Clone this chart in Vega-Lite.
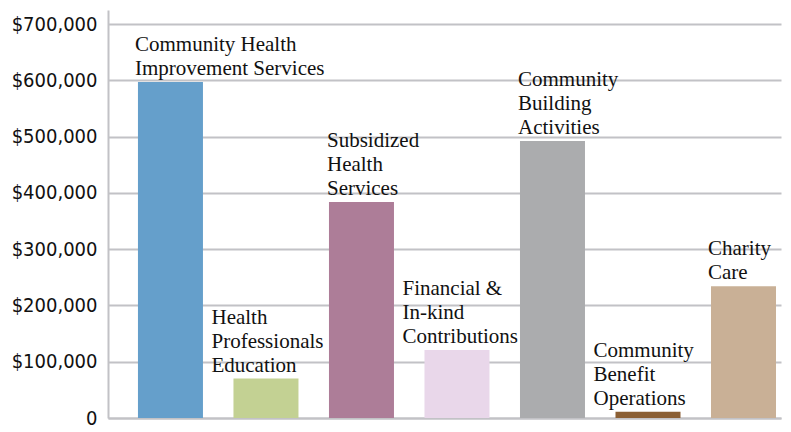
{
  "$schema": "https://vega.github.io/schema/vega-lite/v6.json",
  "width": 673,
  "height": 408,
  "autosize": {"type": "none"},
  "padding": {"left": 108, "top": 10, "right": 10, "bottom": 14},
  "background": "white",
  "config": {"view": {"stroke": null}},
  "data": {
    "values": [
      {"category": "Community Health Improvement Services", "label": "Community Health\nImprovement Services", "value": 597000, "group": "A2"},
      {"category": "Health Professionals Education", "label": "Health\nProfessionals\nEducation", "value": 70000, "group": "B3"},
      {"category": "Subsidized Health Services", "label": "Subsidized\nHealth\nServices", "value": 384000, "group": "A3"},
      {"category": "Financial & In-kind Contributions", "label": "Financial &\nIn-kind\nContributions", "value": 121000, "group": "B3"},
      {"category": "Community Building Activities", "label": "Community\nBuilding\nActivities", "value": 492000, "group": "A3"},
      {"category": "Community Benefit Operations", "label": "Community\nBenefit\nOperations", "value": 11000, "group": "B3"},
      {"category": "Charity Care", "label": "Charity\nCare", "value": 234000, "group": "A2"}
    ]
  },
  "encoding": {
    "x": {
      "field": "category",
      "type": "nominal",
      "sort": null,
      "scale": {"paddingInner": 0.3194, "paddingOuter": 0.183, "align": 0.857},
      "axis": {"title": null, "labels": false, "ticks": false, "domain": true, "domainColor": "#c2c2c6", "domainWidth": 2, "grid": false}
    },
    "y": {
      "field": "value",
      "type": "quantitative",
      "scale": {"domain": [0, 725000], "nice": false, "zero": true},
      "axis": {
        "title": null,
        "values": [0, 100000, 200000, 300000, 400000, 500000, 600000, 700000],
        "labelExpr": "datum.value == 0 ? '0' : '$' + format(datum.value, ',')",
        "ticks": false,
        "grid": true,
        "gridColor": "#c2c2c6",
        "gridWidth": 2,
        "domain": true,
        "domainColor": "#c2c2c6",
        "domainWidth": 2,
        "labelFont": "DejaVu Sans Condensed, Liberation Sans, sans-serif",
        "labelFontSize": 20,
        "labelColor": "#111111",
        "labelPadding": 11
      }
    }
  },
  "layer": [
    {
      "mark": {"type": "bar"},
      "encoding": {
        "color": {
          "field": "category",
          "type": "nominal",
          "sort": null,
          "scale": {
            "domain": ["Community Health Improvement Services", "Health Professionals Education", "Subsidized Health Services", "Financial & In-kind Contributions", "Community Building Activities", "Community Benefit Operations", "Charity Care"],
            "range": ["#659fcb", "#c3d193", "#ad7d98", "#e9d7ea", "#abacae", "#8b5f34", "#c9b096"]
          },
          "legend": null
        }
      }
    },
    {
      "transform": [{"filter": "datum.group == 'A2'"}],
      "mark": {"type": "text", "align": "left", "baseline": "alphabetic", "dx": -3, "dy": -31, "font": "Liberation Serif", "fontSize": 21, "lineHeight": 24, "lineBreak": "\n", "color": "#111111"},
      "encoding": {
        "x": {"field": "category", "type": "nominal", "sort": null, "bandPosition": 0},
        "text": {"field": "label"}
      }
    },
    {
      "transform": [{"filter": "datum.group == 'A3'"}],
      "mark": {"type": "text", "align": "left", "baseline": "alphabetic", "dx": -2, "dy": -55, "font": "Liberation Serif", "fontSize": 21, "lineHeight": 24, "lineBreak": "\n", "color": "#111111"},
      "encoding": {
        "x": {"field": "category", "type": "nominal", "sort": null, "bandPosition": 0},
        "text": {"field": "label"}
      }
    },
    {
      "transform": [{"filter": "datum.group == 'B3'"}],
      "mark": {"type": "text", "align": "left", "baseline": "alphabetic", "dx": -22, "dy": -55, "font": "Liberation Serif", "fontSize": 21, "lineHeight": 24, "lineBreak": "\n", "color": "#111111"},
      "encoding": {
        "x": {"field": "category", "type": "nominal", "sort": null, "bandPosition": 0},
        "text": {"field": "label"}
      }
    }
  ]
}
